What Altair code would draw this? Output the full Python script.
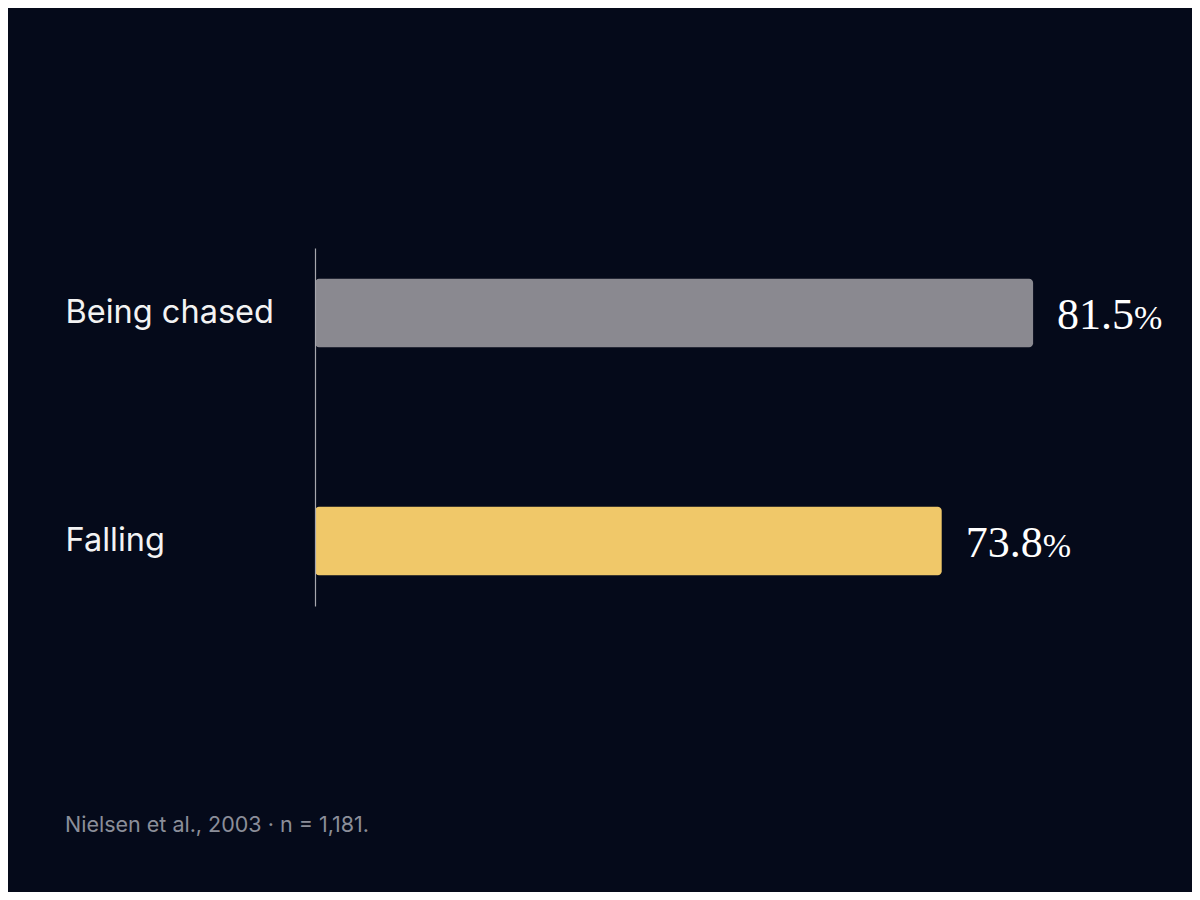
# %% Imports

import altair as alt
import pandas as pd

# %% Data

categories = ["Being chased", "Falling"]
values = [81.5, 73.8]
bar_colors = ["#8a8990", "#f0c869"]
footnote = "Nielsen et al., 2003 · n = 1,181."
x_start = 21

df = pd.DataFrame({"theme": categories, "pct": values})

# %% Chart

base = alt.Chart(df).encode(
    y=alt.Y(
        "theme:N",
        sort=categories,
        title=None,
        scale=alt.Scale(paddingInner=0.7, paddingOuter=0.135),
        axis=alt.Axis(
            labelAlign="left",
            labelPadding=250,
            labelFontSize=32.5,
            labelFont="Inter",
            labelColor="#f3f3f3",
            labelBaseline="middle",
            labelLimit=400,
            ticks=False,
            domainColor="#a7a7ad",
            domainWidth=1.2,
            zindex=1,
        ),
    ),
    x=alt.X(
        "pct:Q",
        axis=None,
        scale=alt.Scale(domain=[x_start, 90], zero=False, nice=False),
    ),
)

bars = base.mark_bar(cornerRadiusEnd=4).encode(
    x2=alt.datum(x_start),
    color=alt.Color(
        "theme:N",
        scale=alt.Scale(domain=categories, range=bar_colors),
        legend=None,
    ),
)

nums = base.mark_text(
    align="left",
    baseline="alphabetic",
    dx=24,
    dy=16,
    font="Liberation Serif",
    fontSize=44,
    color="#ffffff",
).encode(text=alt.Text("pct:Q", format=".1f"))

pct_sign = base.mark_text(
    align="left",
    baseline="alphabetic",
    dx=101,
    dy=16,
    font="Liberation Serif",
    fontSize=34,
    color="#ffffff",
).encode(text=alt.value("%"))

chart = (
    alt.layer(bars, nums, pct_sign)
    .properties(
        width=819,
        height=358,
        autosize=alt.AutoSizeParams(type="none"),
        padding={"left": 307, "top": 240, "right": 58, "bottom": 286},
        background="#050a1a",
        title=alt.TitleParams(
            footnote,
            orient="bottom",
            anchor="start",
            frame="bounds",
            baseline="alphabetic",
            offset=226,
            fontSize=21.5,
            font="Inter",
            fontWeight="normal",
            color="#8b8e99",
        ),
    )
    .configure_view(stroke=None)
)

chart.save("out.html", embed_options={"renderer": "svg", "actions": False})
